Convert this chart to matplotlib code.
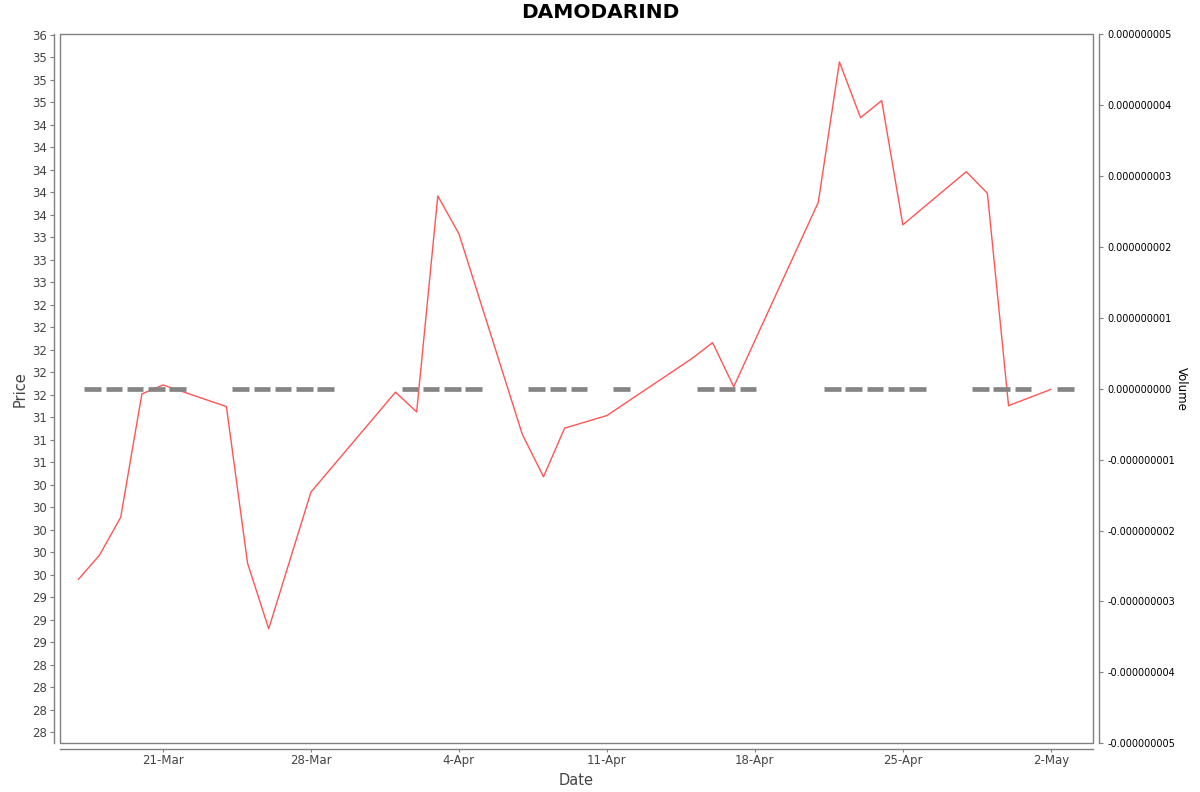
import numpy as np
import matplotlib
matplotlib.use("Agg")
import matplotlib.pyplot as plt
import matplotlib.dates as mdates
from matplotlib.ticker import FixedLocator, FuncFormatter

# price series
price_dates = ["2025-03-17", "2025-03-18", "2025-03-19", "2025-03-20", "2025-03-21",
               "2025-03-24", "2025-03-25", "2025-03-26", "2025-03-28",
               "2025-04-01", "2025-04-02", "2025-04-03", "2025-04-04",
               "2025-04-07", "2025-04-08", "2025-04-09", "2025-04-11",
               "2025-04-15", "2025-04-16", "2025-04-17",
               "2025-04-21", "2025-04-22", "2025-04-23", "2025-04-24", "2025-04-25",
               "2025-04-28", "2025-04-29", "2025-04-30", "2025-05-02"]
close = [29.45, 29.72, 30.14, 31.51, 31.61,
         31.37, 29.63, 28.90, 30.42,
         31.53, 31.31, 33.71, 33.29,
         31.06, 30.59, 31.13, 31.27,
         31.90, 32.08, 31.59,
         33.64, 35.20, 34.58, 34.77, 33.39,
         33.98, 33.74, 31.38, 31.56]

# volume series (all zero)
vol_dates = ["2025-03-17", "2025-03-18", "2025-03-19", "2025-03-20", "2025-03-21",
             "2025-03-24", "2025-03-25", "2025-03-26", "2025-03-27", "2025-03-28",
             "2025-04-01", "2025-04-02", "2025-04-03", "2025-04-04",
             "2025-04-07", "2025-04-08", "2025-04-09", "2025-04-11",
             "2025-04-15", "2025-04-16", "2025-04-17",
             "2025-04-21", "2025-04-22", "2025-04-23", "2025-04-24", "2025-04-25",
             "2025-04-28", "2025-04-29", "2025-04-30", "2025-05-02"]
volume = [0] * len(vol_dates)

title = "DAMODARIND"
price_ticks = np.arange(27.75, 35.51, 0.25)
vol_ticks = np.arange(-5, 6) * 1e-9
date_ticks = ["2025-03-21", "2025-03-28", "2025-04-04", "2025-04-11",
              "2025-04-18", "2025-04-25", "2025-05-02"]

px = mdates.datestr2num(price_dates)
vx = mdates.datestr2num(vol_dates)
tx = mdates.datestr2num(date_ticks)

grey = "#808080"
txt = "#444444"

fig = plt.figure(figsize=(12, 7.92), dpi=100)
ax = fig.add_axes([59.5 / 1200, (792 - 743.3) / 792, (1093.3 - 59.5) / 1200, (743.3 - 34) / 792])
ax2 = ax.twinx()

ax.plot(px, close, color="#ff5555", lw=1.0, zorder=3)

# zero-height volume bars show up as short thick grey dashes
bw = 0.79
ax2.hlines(volume, vx + 0.68 - bw / 2, vx + 0.68 + bw / 2, color="#858585", lw=3.4, zorder=2)

ax.set_xlim(mdates.datestr2num("2025-03-21") - 4.896, mdates.datestr2num("2025-03-21") + 44.01)
ax.set_ylim(27.628, 35.51)
ax2.set_ylim(-5e-9, 5e-9)

ax.yaxis.set_major_locator(FixedLocator(price_ticks))
ax.yaxis.set_major_formatter(FuncFormatter(lambda v, p: "%d" % round(v)))
ax2.yaxis.set_major_locator(FixedLocator(vol_ticks))
ax2.yaxis.set_major_formatter(FuncFormatter(lambda v, p: "%.9f" % (round(v * 1e9) / 1e9)))
ax.xaxis.set_major_locator(FixedLocator(tx))
ax.xaxis.set_major_formatter(FuncFormatter(lambda v, p: "%d-%s" % (mdates.num2date(v).day, mdates.num2date(v).strftime("%b"))))

for a in (ax, ax2):
    for s in a.spines.values():
        s.set_visible(False)
ax.spines["left"].set_visible(True)
ax.spines["left"].set_position(("outward", 4))
ax.spines["bottom"].set_visible(True)
ax.spines["bottom"].set_position(("outward", 4))
ax2.spines["right"].set_visible(True)
ax2.spines["right"].set_position(("outward", 4))
for s in (ax.spines["left"], ax.spines["bottom"], ax2.spines["right"]):
    s.set_color(grey)
    s.set_linewidth(1.0)

# plot frame
ax.patch.set_edgecolor(grey)
ax.patch.set_linewidth(1.0)

ax.tick_params(axis="y", direction="out", length=3, width=0.8, color=grey, labelsize=8.5, labelcolor=txt, pad=2)
ax.tick_params(axis="x", direction="out", length=2, width=0.8, color=grey, labelsize=8.5, labelcolor=txt, pad=2)
ax2.tick_params(axis="y", direction="out", length=3, width=0.8, color=grey, labelsize=7, labelcolor="black", pad=3)

ax.set_xlabel("Date", fontsize=10.5, color=txt, labelpad=4)
ax.set_ylabel("Price", fontsize=10.5, color=txt, labelpad=3)
ax2.set_ylabel("Volume", fontsize=8.5, color="black", rotation=270, labelpad=9)
fig.text(0.5, 1 - 13 / 792, title, ha="center", va="center", fontsize=14.5, fontweight="bold")

fig.savefig("out.png", dpi=100)
